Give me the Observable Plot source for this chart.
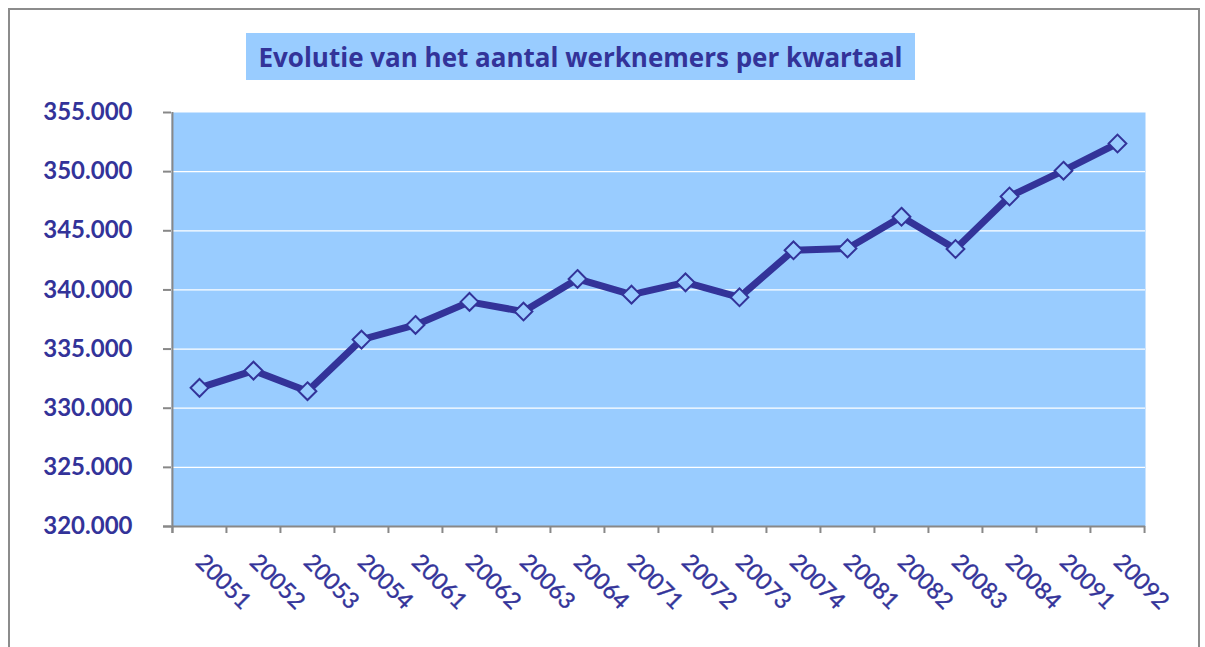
<!DOCTYPE html>
<html><head><meta charset="utf-8">
<script src="https://cdn.jsdelivr.net/npm/d3@7"></script>
<script src="https://cdn.jsdelivr.net/npm/@observablehq/plot@0.6"></script>
<style>
body{margin:0;background:#fff;}
#wrap{position:relative;width:1205px;height:647px;overflow:hidden;font-family:Lato,sans-serif;}
#border{position:absolute;left:8px;top:8px;width:1192px;height:700px;border:2px solid #8c8c8c;box-sizing:border-box;}
#title{position:absolute;left:246px;top:33px;width:669px;height:47px;background:#99CCFF;color:#333399;font:bold 26px "Open Sans",sans-serif;display:flex;align-items:center;justify-content:center;white-space:nowrap;}
#chart{position:absolute;left:0;top:0;}
</style></head>
<body>
<div id="wrap">
  <div id="border"></div>
  <div id="chart"></div>
  <div id="title">Evolutie van het aantal werknemers per kwartaal</div>
</div>
<script>
const quarters = ["20051","20052","20053","20054","20061","20062","20063","20064","20071","20072","20073","20074","20081","20082","20083","20084","20091","20092"];
const employees = [331720,333180,331440,335800,337040,338990,338170,340930,339600,340640,339380,343350,343510,346190,343460,347900,350080,352380];
const yTicks = [320000,325000,330000,335000,340000,345000,350000,355000];

const data = quarters.map((q, i) => ({q, v: employees[i]}));
const W = 1205, H = 647, mL = 171, mR = 60, mT = 112, mB = 121;
const plotW = W - mL - mR, plotH = H - mT - mB;
const step = plotW / quarters.length;
const fmt = d => d3.format(",")(d).replace(/,/g, ".");
const gray = "#888888", navy = "#333399", sky = "#99CCFF";

const chart = Plot.plot({
  width: W, height: H,
  marginLeft: mL, marginRight: mR, marginTop: mT, marginBottom: mB,
  style: {background: "transparent", overflow: "visible"},
  x: {type: "point", domain: quarters, padding: 0.5, axis: null},
  y: {domain: [320000, 355000], axis: null},
  marks: [
    Plot.frame({fill: sky, stroke: null}),
    Plot.ruleY(yTicks.slice(1, -1), {stroke: "white", strokeWidth: 1.2}),
    Plot.ruleY(yTicks, {stroke: gray, strokeWidth: 2, insetLeft: -8, insetRight: plotW}),
    Plot.ruleY([320000], {stroke: gray, strokeWidth: 2, insetLeft: -8}),
    Plot.ruleX([quarters[0]], {stroke: gray, strokeWidth: 2, dx: -step / 2, insetBottom: -7}),
    Plot.ruleX(quarters, {stroke: gray, strokeWidth: 2, dx: -step / 2, insetTop: plotH, insetBottom: -7}),
    Plot.ruleX([quarters[quarters.length - 1]], {stroke: gray, strokeWidth: 2, dx: step / 2, insetTop: plotH, insetBottom: -7}),
    Plot.text(yTicks, {y: d => d, frameAnchor: "left", dx: -39, textAnchor: "end", text: fmt,
      fill: navy, fontSize: 24, fontWeight: "bold", fontFamily: "Lato"}),
    Plot.text(data, {x: "q", frameAnchor: "bottom", text: "q", rotate: 45, textAnchor: "start", lineAnchor: "bottom",
      dx: -5, dy: 37, fill: navy, fontSize: 23, fontFamily: "Lato", stroke: navy, strokeWidth: 0.4}),
    Plot.line(data, {x: "q", y: "v", stroke: navy, strokeWidth: 7}),
    Plot.dot(data, {x: "q", y: "v", symbol: "diamond2", r: 8, fill: sky, stroke: navy, strokeWidth: 2})
  ]
});
document.getElementById("chart").appendChild(chart);
</script>
</body></html>
